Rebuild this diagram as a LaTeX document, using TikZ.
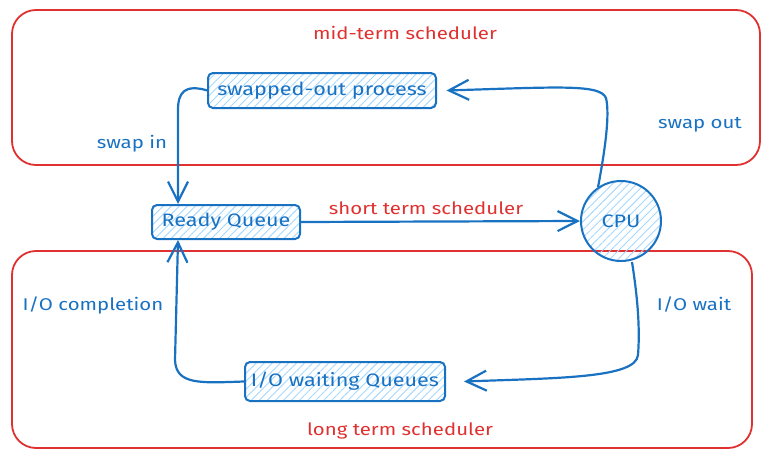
\documentclass[tikz,border=0pt]{standalone}
\usepackage{fontspec}
\setmainfont{Fira Sans}[FakeStretch=1.2]
\usetikzlibrary{arrows.meta,patterns.meta}
\definecolor{eblue}{HTML}{1971C2}
\definecolor{ered}{HTML}{E03131}
\definecolor{ehatch}{HTML}{A5D8FF}
\begin{document}
\begin{tikzpicture}[x=1pt,y=-1pt,
  group/.style={draw=ered,line width=1.8pt,rounded corners=24pt},
  procbox/.style={draw=eblue,line width=2pt,rounded corners=5pt,pattern={Lines[angle=45,distance=5.7pt,line width=0.9pt]},pattern color=ehatch,text=eblue,font=\fontsize{18}{20}\selectfont,inner sep=0pt},
  conn/.style={draw=eblue,line width=2.2pt,-{Straight Barb[length=20pt,width=20pt,line width=2.2pt]}},
  redlbl/.style={text=ered,font=\fontsize{17}{19}\selectfont},
  bluelbl/.style={text=eblue,font=\fontsize{17}{19}\selectfont}]
\useasboundingbox (0,0) rectangle (769,458);
% scheduler groups
\draw[group] (12,10) rectangle (760,165);
\draw[group] (12,251) rectangle (752,448);
\node[redlbl] (mid) at (405,33) {mid-term scheduler};
\node[redlbl] (long) at (400,431) {long term scheduler};
% nodes
\node[procbox,minimum width=228pt,minimum height=35pt] (swap) at (322,90.5) {swapped-out process};
\node[procbox,minimum width=148pt,minimum height=34pt] (ready) at (226,222) {Ready Queue};
\node[procbox,circle,minimum size=80pt] (cpu) at (621,221) {CPU};
\node[procbox,minimum width=200pt,minimum height=39pt] (io) at (345,381.5) {I/O waiting Queues};
% connectors
\draw[conn] (cpu.124) .. controls (605,150) and (610,115) .. (606,98) .. controls (600,84) and (560,87) .. ([xshift=10pt]swap.east);
\draw[conn] (swap.west) .. controls (185,84) and (178,92) .. (178,110) -- ([xshift=-48pt]ready.north);
\draw[conn] (ready.east) -- (cpu.west);
\draw[conn] ([xshift=11pt]cpu.south) .. controls (638,300) and (640,330) .. (638,355) .. controls (636,378) and (560,378) .. ([xshift=18pt]io.east);
\draw[conn] (io.west) .. controls (200,383) and (176,385) .. (175,360) -- ([xshift=-48pt]ready.south);
% labels
\node[bluelbl] (lswapin) at (132,144) {swap in};
\node[bluelbl] (lswapout) at (700,125) {swap out};
\node[redlbl] (lshort) at (426,208) {short term scheduler};
\node[bluelbl] (lcomp) at (93,305) {I/O completion};
\node[bluelbl] (lwait) at (694,305) {I/O wait};
\end{tikzpicture}
\end{document}
